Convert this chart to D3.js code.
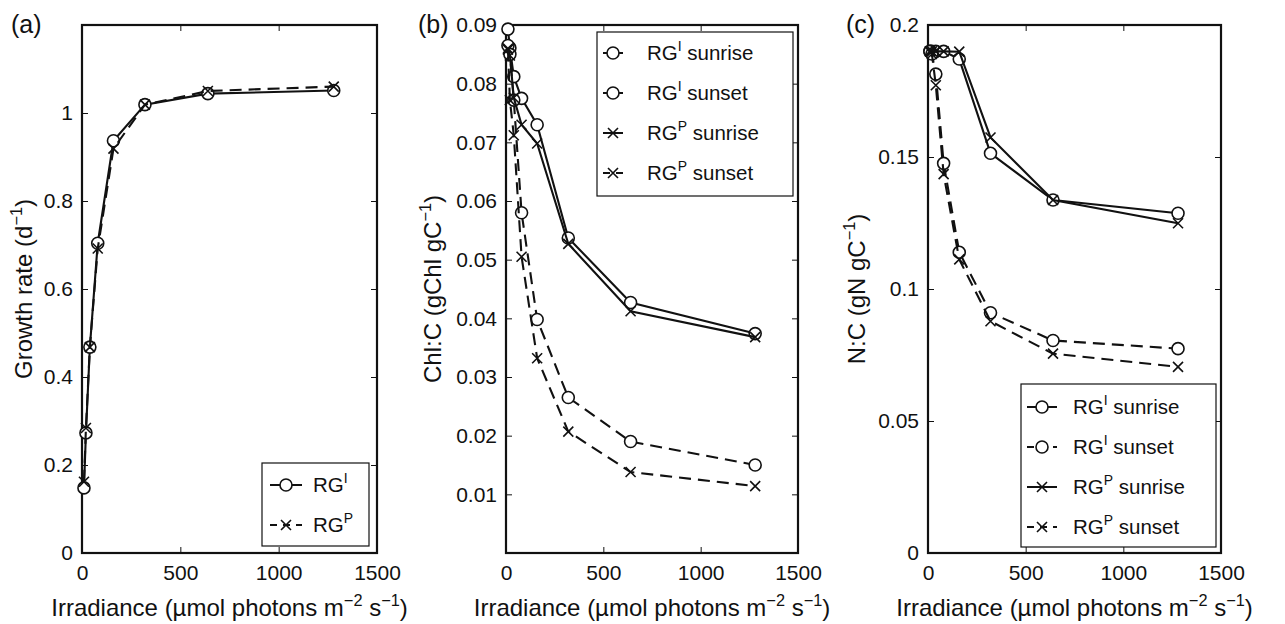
<!DOCTYPE html>
<html>
<head>
<meta charset="utf-8">
<script src="https://cdn.jsdelivr.net/npm/d3@7"></script>
<style>
  body { margin: 0; background: #fff; }
  svg { display: block; font-family: "Liberation Sans", Arial, sans-serif; }
</style>
</head>
<body>
<div id="chart"></div>
<script>
// values
const irradiance = [10, 20, 40, 80, 160, 320, 640, 1280];

const growthRGI = [0.148, 0.273, 0.468, 0.704, 0.937, 1.019, 1.044, 1.051];
const growthRGP = [0.162, 0.284, 0.468, 0.692, 0.919, 1.019, 1.050, 1.060];

const chlRGISunrise = [0.0893, 0.0861, 0.0812, 0.0775, 0.0730, 0.0537, 0.0427, 0.0374];
const chlRGISunset  = [0.0865, 0.0850, 0.0772, 0.0580, 0.0398, 0.0265, 0.0190, 0.0150];
const chlRGPSunrise = [0.0860, 0.0848, 0.0776, 0.0730, 0.0698, 0.0527, 0.0412, 0.0368];
const chlRGPSunset  = [0.0858, 0.0772, 0.0712, 0.0505, 0.0332, 0.0207, 0.0138, 0.0114];

const ncRGISunrise = [0.190, 0.190, 0.190, 0.190, 0.1871, 0.1514, 0.1337, 0.1287];
const ncRGISunset  = [0.190, 0.189, 0.1814, 0.1476, 0.1139, 0.0910, 0.0805, 0.0774];
const ncRGPSunrise = [0.190, 0.190, 0.190, 0.190, 0.1899, 0.1574, 0.1337, 0.1249];
const ncRGPSunset  = [0.190, 0.189, 0.1772, 0.1435, 0.1112, 0.0878, 0.0755, 0.0705];

const xTicks = [0, 500, 1000, 1500];
const growthTicks = [0, 0.2, 0.4, 0.6, 0.8, 1];
const chlTicks = [0.01, 0.02, 0.03, 0.04, 0.05, 0.06, 0.07, 0.08, 0.09];
const ncTicks = [0, 0.05, 0.1, 0.15, 0.2];

const W = 1285, H = 624;
const plotTop = 25, plotBottom = 553;
const ink = "#111";

const svg = d3.select("#chart").append("svg")
  .attr("width", W)
  .attr("height", H);

// text with superscript parts: [["text", false], ["−1", true], ...]
function richText(sel, parts, size) {
  parts.forEach(([t, sup], i) => {
    const prevSup = i > 0 && parts[i - 1][1];
    const ts = sel.append("tspan").text(t);
    if (sup) ts.attr("font-size", size * 0.68).attr("dy", -size * 0.42);
    else if (prevSup) ts.attr("dy", size * 0.42);
  });
}

function marker(g, type, x, y) {
  if (type === "o") {
    g.append("circle")
      .attr("cx", x).attr("cy", y).attr("r", 6)
      .attr("fill", "#fff").attr("stroke", ink).attr("stroke-width", 1.6);
  } else {
    const s = 5;
    g.append("path")
      .attr("d", `M${x - s},${y - s}L${x + s},${y + s}M${x - s},${y + s}L${x + s},${y - s}`)
      .attr("stroke", ink).attr("stroke-width", 1.6).attr("fill", "none");
  }
}

function drawPanel(cfg) {
  const g = svg.append("g");
  const x = d3.scaleLinear().domain([0, 1500]).range([cfg.left, cfg.right]);
  const y = d3.scaleLinear().domain(cfg.yDomain).range([plotBottom, plotTop]);
  const fmt = d => String(d);

  // inward ticks on all four sides (matlab box style)
  const axB = g.append("g").attr("transform", `translate(0,${plotBottom})`)
    .call(d3.axisBottom(x).tickValues(xTicks).tickFormat(fmt).tickSize(-6).tickPadding(12));
  const axT = g.append("g").attr("transform", `translate(0,${plotTop})`)
    .call(d3.axisTop(x).tickValues(xTicks).tickFormat("").tickSize(-6));
  const axL = g.append("g").attr("transform", `translate(${cfg.left},0)`)
    .call(d3.axisLeft(y).tickValues(cfg.yTicks).tickFormat(fmt).tickSize(-6).tickPadding(9));
  const axR = g.append("g").attr("transform", `translate(${cfg.right},0)`)
    .call(d3.axisRight(y).tickValues(cfg.yTicks).tickFormat("").tickSize(-6));

  [axB, axT, axL, axR].forEach(a => {
    a.select(".domain").remove();
    a.selectAll("line").attr("stroke", ink).attr("stroke-width", 1);
    a.selectAll("text").attr("fill", ink).style("font-size", "21px")
      .style("font-family", "Liberation Sans, Arial, sans-serif");
  });
  axB.selectAll("text").attr("dy", "0.72em");

  g.append("rect")
    .attr("x", cfg.left).attr("y", plotTop)
    .attr("width", cfg.right - cfg.left).attr("height", plotBottom - plotTop)
    .attr("fill", "none").attr("stroke", ink).attr("stroke-width", 2.2);

  // series
  cfg.series.forEach(s => {
    const pts = irradiance.map((v, i) => [x(v), y(s.values[i])]);
    g.append("path")
      .attr("d", d3.line()(pts))
      .attr("fill", "none").attr("stroke", ink).attr("stroke-width", 2.1)
      .attr("stroke-dasharray", s.dashed ? "12,7" : null);
    pts.forEach(p => marker(g, s.marker, p[0], p[1]));
  });

  // legend
  const L = cfg.legend;
  const lg = g.append("g");
  lg.append("rect")
    .attr("x", L.x).attr("y", L.y).attr("width", L.w).attr("height", L.h)
    .attr("fill", "#fff").attr("stroke", ink).attr("stroke-width", 1.2);
  cfg.series.forEach((s, i) => {
    const ry = L.y + L.first + i * L.step;
    lg.append("line")
      .attr("x1", L.x + L.s0).attr("x2", L.x + L.s1).attr("y1", ry).attr("y2", ry)
      .attr("stroke", ink).attr("stroke-width", 2)
      .attr("stroke-dasharray", s.dashed ? "7,6" : null);
    marker(lg, s.marker, L.x + (L.s0 + L.s1) / 2, ry);
    const t = lg.append("text")
      .attr("x", L.x + L.tx).attr("y", ry + 7)
      .attr("fill", ink).style("font-size", "20.5px");
    richText(t, s.label, 20.5);
  });

  // y label
  const cy = (plotTop + plotBottom) / 2;
  const yl = g.append("text")
    .attr("transform", `translate(${cfg.yLabelX},${cy}) rotate(-90)`)
    .attr("text-anchor", "middle").attr("fill", ink)
    .style("font-size", "24px");
  richText(yl, cfg.yLabel, 24);

  // x label
  const xl = g.append("text")
    .attr("x", (cfg.left + cfg.right) / 2).attr("y", 616)
    .attr("text-anchor", "middle").attr("fill", ink)
    .style("font-size", "24px");
  richText(xl, [["Irradiance (µmol photons m", false], ["−2", true], [" s", false], ["−1", true], [")", false]], 24);

  g.append("text")
    .attr("x", cfg.letterX).attr("y", 33)
    .attr("fill", ink).style("font-size", "25px")
    .text(cfg.letter);
}

const labI = (suffix) => [["RG", false], ["I", true], [suffix, false]];
const labP = (suffix) => [["RG", false], ["P", true], [suffix, false]];

drawPanel({
  letter: "(a)", letterX: 11,
  left: 82, right: 377,
  yDomain: [0, 1.2], yTicks: growthTicks,
  yLabelX: 32,
  yLabel: [["Growth rate (d", false], ["−1", true], [")", false]],
  series: [
    { values: growthRGI, marker: "o", dashed: false, label: labI("") },
    { values: growthRGP, marker: "x", dashed: true, label: labP("") }
  ],
  legend: { x: 262, y: 463, w: 107, h: 83, first: 22, step: 40, s0: 8, s1: 40, tx: 51 }
});

drawPanel({
  letter: "(b)", letterX: 418,
  left: 506, right: 798,
  yDomain: [0, 0.09], yTicks: chlTicks,
  yLabelX: 441,
  yLabel: [["Chl:C (gChl gC", false], ["−1", true], [")", false]],
  series: [
    { values: chlRGISunrise, marker: "o", dashed: false, label: labI(" sunrise") },
    { values: chlRGISunset, marker: "o", dashed: true, label: labI(" sunset") },
    { values: chlRGPSunrise, marker: "x", dashed: false, label: labP(" sunrise") },
    { values: chlRGPSunset, marker: "x", dashed: true, label: labP(" sunset") }
  ],
  legend: { x: 597, y: 32, w: 196, h: 164, first: 21, step: 40, s0: 6, s1: 26, tx: 50 }
});

drawPanel({
  letter: "(c)", letterX: 846,
  left: 928, right: 1221,
  yDomain: [0, 0.2], yTicks: ncTicks,
  yLabelX: 865,
  yLabel: [["N:C (gN gC", false], ["−1", true], [")", false]],
  series: [
    { values: ncRGISunrise, marker: "o", dashed: false, label: labI(" sunrise") },
    { values: ncRGISunset, marker: "o", dashed: true, label: labI(" sunset") },
    { values: ncRGPSunrise, marker: "x", dashed: false, label: labP(" sunrise") },
    { values: ncRGPSunset, marker: "x", dashed: true, label: labP(" sunset") }
  ],
  legend: { x: 1021, y: 384, w: 195, h: 163, first: 23, step: 40, s0: 6, s1: 36, tx: 52 }
});
</script>
</body>
</html>
